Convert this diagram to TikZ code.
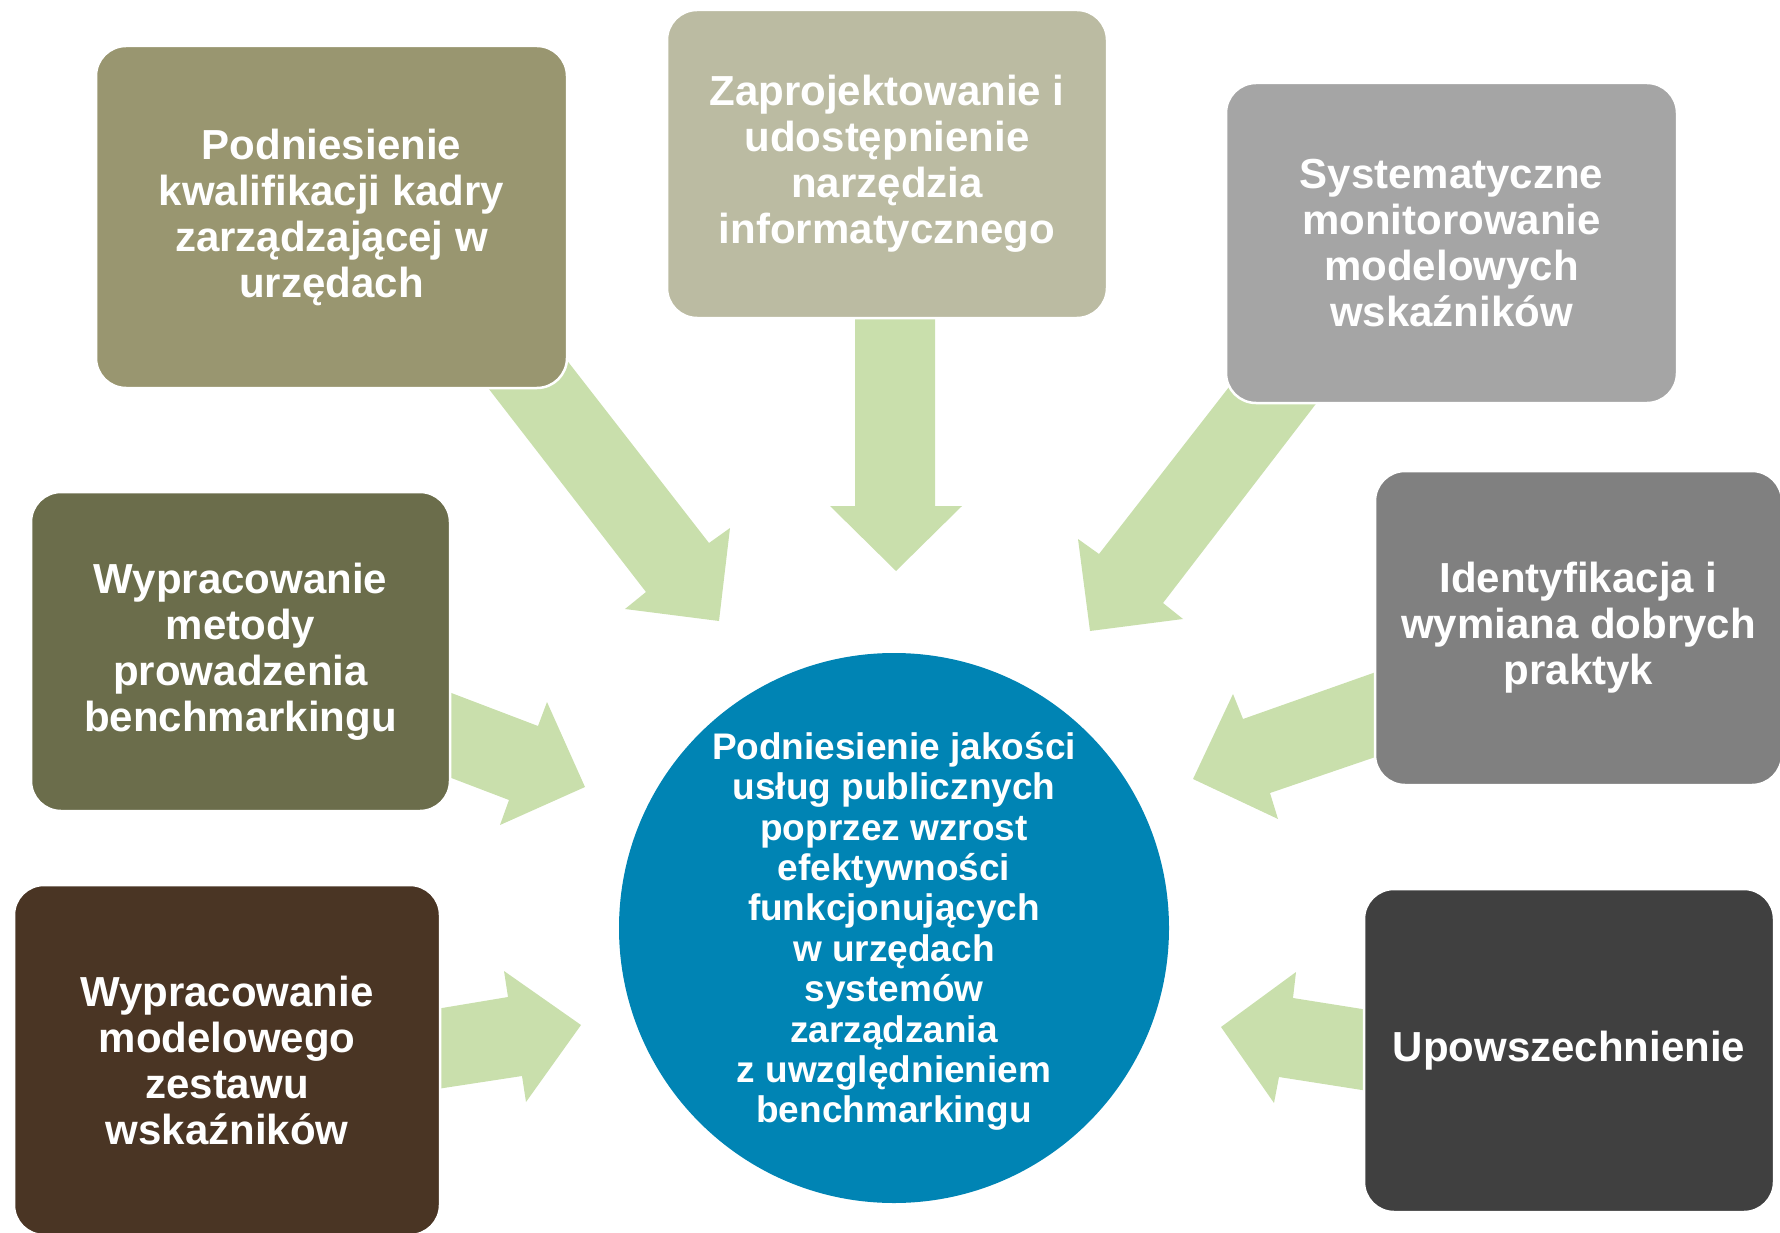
\documentclass[tikz,border=0pt]{standalone}
\usepackage{fontspec}
\setmainfont{Liberation Sans}
\pgfdeclarelayer{bg}
\pgfsetlayers{bg,main}
\definecolor{cA}{HTML}{999670}
\definecolor{cB}{HTML}{BBBBA2}
\definecolor{cC}{HTML}{A5A5A5}
\definecolor{cD}{HTML}{6B6D4B}
\definecolor{cE}{HTML}{808080}
\definecolor{cF}{HTML}{4A3524}
\definecolor{cG}{HTML}{404040}
\definecolor{circ}{HTML}{0084B4}
\definecolor{agreen}{HTML}{C9DFAC}
\tikzset{
  box/.style={rectangle, rounded corners=30pt, draw=white, line width=2.5pt,
    text=white, font=\bfseries\fontsize{42}{46}\selectfont, align=center, inner sep=0pt},
  hub/.style={circle, fill=circ, draw=none, minimum size=550pt, inner sep=0pt},
  hubtext/.style={text=white, font=\bfseries\fontsize{37}{40.4}\selectfont, align=center, inner sep=0pt},
  barrow/.style={fill=agreen, draw=none}
}
\begin{document}
\begin{tikzpicture}[x=1pt,y=-1pt]
\useasboundingbox (0,0) rectangle (1780,1233);

\node[box, fill=cA, minimum width=471pt, minimum height=342pt] (b1) at (331.5,217)
  {Podniesienie\\kwalifikacji kadry\\zarządzającej w\\urzędach};
\node[box, fill=cB, minimum width=440pt, minimum height=308pt] (b2) at (887,164)
  {Zaprojektowanie i\\udostępnienie\\narzędzia\\informatycznego};
\node[box, fill=cC, minimum width=451pt, minimum height=320pt] (b3) at (1451.5,243)
  {Systematyczne\\monitorowanie\\modelowych\\wskaźników};
\node[box, fill=cD, minimum width=419pt, minimum height=319pt] (b4) at (240.5,651.5)
  {Wypracowanie\\metody\\prowadzenia\\benchmarkingu};
\node[box, fill=cE, minimum width=407pt, minimum height=314pt] (b5) at (1578.5,628)
  {Identyfikacja i\\wymiana dobrych\\praktyk};
\node[box, fill=cF, minimum width=426pt, minimum height=350pt] (b6) at (227,1060)
  {Wypracowanie\\modelowego\\zestawu\\wskaźników};
\node[box, fill=cG, minimum width=410pt, minimum height=323pt] (b7) at (1569,1050.5)
  {Upowszechnienie};

\node[hub] (hub) at (894,928) {};
\node[hubtext] (hubt) at (894,931.5)
  {Podniesienie jakości\\usług publicznych\\poprzez wzrost\\efektywności\\funkcjonujących\\w urzędach\\systemów\\zarządzania\\z uwzględnieniem\\benchmarkingu};

\begin{pgfonlayer}{bg}
  % from b1
  \fill[barrow] (541,327) -- (709,543) -- (730,528) -- (719,621) -- (625,609) -- (646,592) -- (461,353) -- cycle;
  % from b2
  \fill[barrow] (855,300) -- (935,300) -- (935,506) -- (962,506) -- (896,571) -- (830,506) -- (855,506) -- cycle;
  % from b3
  \fill[barrow] (1257,351) -- (1345,366) -- (1163,603) -- (1183,619) -- (1090,631) -- (1078,539) -- (1099,554) -- cycle;
  % from b4
  \fill[barrow] (433,686) -- (538,726) -- (547,702) -- (585,787) -- (500,825) -- (509,800) -- (433,771) -- cycle;
  % from b6
  \fill[barrow] (424,1011) -- (508,997) -- (504,971) -- (581,1025) -- (526,1102) -- (522,1076) -- (424,1091) -- cycle;
  % from b5
  \fill[barrow] (1393,666) -- (1243,719) -- (1233,694) -- (1193,779) -- (1278,819) -- (1270,793) -- (1393,751) -- cycle;
  % from b7
  \fill[barrow] (1381,1012) -- (1293,998) -- (1296,972) -- (1221,1027) -- (1274,1103) -- (1279,1077) -- (1381,1093) -- cycle;
\end{pgfonlayer}
\end{tikzpicture}
\end{document}
